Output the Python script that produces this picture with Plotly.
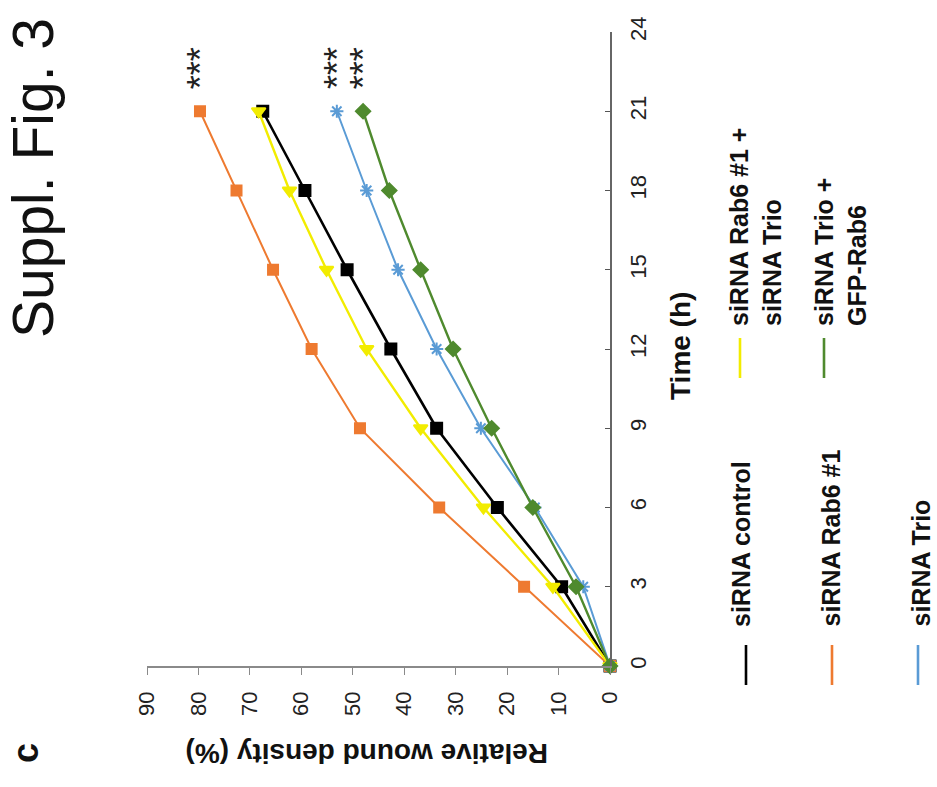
import plotly.graph_objects as go

# ---------------- data ----------------
time_h = [0, 3, 6, 9, 12, 15, 18, 21]
time_ticks = [0, 3, 6, 9, 12, 15, 18, 21, 24]
density_ticks = [0, 10, 20, 30, 40, 50, 60, 70, 80, 90]

series_names = ["siRNA control", "siRNA Rab6 #1", "siRNA Trio",
                "siRNA Rab6 #1 +<br>siRNA Trio", "siRNA Trio +<br>GFP-Rab6"]
siRNA_control = [0, 9.4, 21.9, 33.7, 42.6, 51.1, 59.3, 67.5]
siRNA_rab6 = [0, 16.7, 33.2, 48.6, 58.0, 65.5, 72.6, 79.7]
siRNA_trio = [0, 5.2, 14.6, 25.1, 33.7, 41.2, 47.3, 53.1]
siRNA_rab6_trio = [0, 11.1, 24.6, 36.8, 47.3, 55.1, 62.3, 68.3]
siRNA_trio_gfp = [0, 6.6, 15.0, 23.0, 30.5, 36.8, 42.9, 48.0]
significance = ["", "***", "***", "", "***"]

# ---------------- styles ----------------
colors = ["#000000", "#EE7A30", "#5A9BD5", "#F2EC00", "#4F8A2E"]
symbols = ["square", "square", "asterisk-open", "triangle-down", "diamond"]
msizes = [11, 10, 11, 12, 11]
lwidths = [2.6, 2.0, 2.0, 2.4, 2.4]
values = [siRNA_control, siRNA_rab6, siRNA_trio, siRNA_rab6_trio, siRNA_trio_gfp]

FONT = "Arial, 'Liberation Sans', sans-serif"
W, H = 937, 787
L, R, T, B = 147, 610, 32, 666  # plot area in pixels


def px(xp):
    return (xp - L) / (R - L)


def py(yp):
    return (B - yp) / (B - T)


fig = go.Figure()

for name, vals, c, s, ms, lw in zip(series_names, values, colors, symbols, msizes, lwidths):
    fig.add_trace(go.Scatter(
        x=vals, y=time_h, mode="lines+markers", name=name,
        line=dict(color=c, width=lw),
        marker=dict(symbol=s, size=ms, color=c, line=dict(color=c, width=2)),
        cliponaxis=False, showlegend=False))

# significance stars above last point
annotations = []
for vals, sig in zip(values, significance):
    if sig:
        annotations.append(dict(x=vals[-1], y=time_h[-1], xref="x", yref="y",
                                text=sig, textangle=-90, showarrow=False,
                                font=dict(family=FONT, size=36, color="#222"),
                                xanchor="center", yanchor="bottom", xshift=0, yshift=20))

# ---------------- rotated texts ----------------
def rot_text(x, y, text, size, angle=-90, xa="center", ya="middle", bold=False):
    return dict(x=px(x), y=py(y), xref="paper", yref="paper",
                text=("<b>%s</b>" % text) if bold else text,
                textangle=angle, showarrow=False, xanchor=xa, yanchor=ya,
                font=dict(family=FONT, size=size, color="#111"))


annotations += [
    rot_text(33, 178, "Suppl. Fig. 3", 57),
    rot_text(25, 753, "c", 36, bold=True),
    rot_text(680, 346, "Time (h)", 28, bold=True),
    rot_text(367, 754, "Relative wound density (%)", 28, angle=180, bold=True),
]

# ---------------- custom legend (rotated) ----------------
leg_pos = [(746, 665, 741, 629), (832, 665, 830, 629), (918, 665, 920, 629),
           (740, 358, 755, 328), (824, 358, 840, 328)]
shapes = []
for (lx, ly, tx, ty), name, c, s in zip(leg_pos, series_names, colors, symbols):
    shapes.append(dict(type="line", xref="paper", yref="paper",
                       x0=px(lx), x1=px(lx), y0=py(ly - 20), y1=py(ly + 20),
                       line=dict(color=c, width=2.6)))
    annotations.append(dict(x=px(tx), y=py(ty), xref="paper", yref="paper",
                            text="<b>" + name.replace("<br>", "</b><br><b>") + "</b>",
                            textangle=-90, showarrow=False, align="left",
                            xanchor="center", yanchor="bottom",
                            font=dict(family=FONT, size=25, color="#111")))

fig.add_trace(go.Scatter(
    x=[p[0] for p in leg_pos], y=[p[1] for p in leg_pos], xaxis="x2", yaxis="y2",
    mode="markers", cliponaxis=False, showlegend=False, hoverinfo="skip",
    marker=dict(symbol=symbols, size=msizes, color=colors,
                line=dict(color=colors, width=2))))

# tiny stray dots at top
dot_x = [224, 304, 387, 467, 549]
dot_c = ["#333", "#EE7A30", "#5A9BD5", "#F2EC00", "#333"]
fig.add_trace(go.Scatter(
    x=dot_x, y=[17] * 5, xaxis="x2", yaxis="y2", mode="markers", cliponaxis=False,
    showlegend=False, hoverinfo="skip", marker=dict(size=3, color=dot_c)))

fig.update_layout(
    width=W, height=H, autosize=False,
    margin=dict(l=L, r=W - R, t=T, b=H - B, pad=0),
    paper_bgcolor="white", plot_bgcolor="white",
    showlegend=False,
    xaxis=dict(range=[90, 0], tickvals=density_ticks, tickangle=-90,
               ticks="outside", ticklen=7, tickcolor="#8a8a8a", tickwidth=1.2,
               showline=True, linecolor="#8a8a8a", linewidth=1.5,
               showgrid=False, zeroline=False, ticklabelstandoff=8,
               tickfont=dict(family=FONT, size=22, color="#222")),
    yaxis=dict(range=[0, 24], tickvals=time_ticks, tickangle=-90, side="right",
               ticks="inside", ticklen=5, tickcolor="#555", tickwidth=1.2,
               showline=True, linecolor="#666", linewidth=1.5,
               showgrid=False, zeroline=False, ticklabelstandoff=8,
               tickfont=dict(family=FONT, size=22, color="#222")),
    xaxis2=dict(overlaying="x", range=[L, R], visible=False),
    yaxis2=dict(overlaying="y", range=[B, T], visible=False),
    annotations=annotations, shapes=shapes,
)

fig.write_html("out.html", config={"displayModeBar": False},
               post_script="document.body.style.margin='0';"
                           "document.body.style.overflow='hidden';")
